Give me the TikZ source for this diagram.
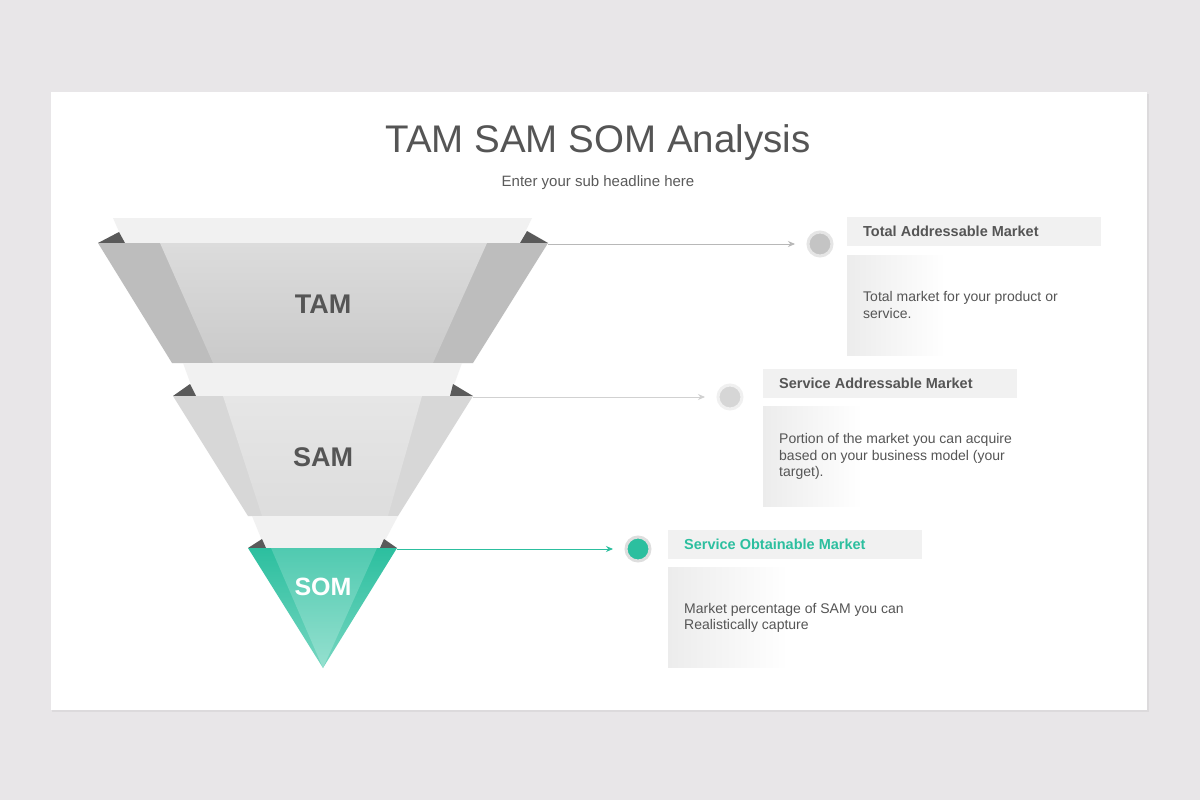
\documentclass[tikz,border=0pt]{standalone}
\usepackage{fontspec}
\setmainfont{Liberation Sans}
\usetikzlibrary{arrows.meta}
\definecolor{bgc}{HTML}{E8E6E8}
\definecolor{shadowc}{HTML}{DCDADC}
\definecolor{titlec}{HTML}{555555}
\definecolor{subc}{HTML}{5A5A5A}
\definecolor{bandc}{HTML}{F1F1F1}
\definecolor{darkc}{HTML}{5A5A5A}
\definecolor{tamside}{HTML}{BDBDBD}
\definecolor{tamtop}{HTML}{DCDCDC}
\definecolor{tambot}{HTML}{CACACA}
\definecolor{samside}{HTML}{D7D7D7}
\definecolor{samtop}{HTML}{E6E6E6}
\definecolor{sambot}{HTML}{DDDDDD}
\definecolor{teal}{HTML}{2CBF9F}
\definecolor{tealtop}{HTML}{50CAB0}
\definecolor{tealbot}{HTML}{95E0CF}
\definecolor{hdrc}{HTML}{F1F1F1}
\definecolor{bodyc}{HTML}{ECECEC}
\definecolor{txtc}{HTML}{555555}
\tikzset{
  band/.style={fill=bandc},
  darktri/.style={fill=darkc},
  hdr/.style={fill=hdrc},
  bodybox/.style={left color=bodyc,right color=white},
  hdrtext/.style={anchor=west,inner sep=0,font=\bfseries\fontsize{14.5}{17}\selectfont,text=txtc},
  bodytext/.style={anchor=west,inner sep=0,align=left,font=\fontsize{14}{16.5}\selectfont,text=txtc},
  lbl/.style={inner sep=0,font=\bfseries\fontsize{27}{30}\selectfont,text=txtc},
  dot/.style={circle,minimum size=24pt,inner sep=0,outer sep=0,line width=3pt},
  conn/.style={line width=0.9pt,-{Stealth[length=7pt,width=6pt]},shorten >=13pt}
}
\begin{document}
\begin{tikzpicture}[x=1pt,y=-1pt]
\useasboundingbox (0,0) rectangle (1200,800);
\fill[bgc] (0,0) rectangle (1200,800);
\fill[shadowc] (52,94) rectangle (1149,712);
\fill[white] (51,92) rectangle (1147,710);

% titles
\node[font=\fontsize{38.5}{42}\selectfont,text=titlec,inner sep=0] (title) at (598,143) {TAM SAM SOM Analysis};
\node[font=\fontsize{15}{18}\selectfont,text=subc,inner sep=0] (sub) at (598,183) {Enter your sub headline here};

% ---------- TAM ----------
\fill[band] (113,218) -- (532,218) -- (520,243) -- (124,243) -- cycle;
\fill[darktri] (98,243) -- (119,232) -- (125,243) -- cycle;
\fill[darktri] (520,243) -- (527,231) -- (548,243) -- cycle;
\fill[tamside] (98,243) -- (548,243) -- (473,363) -- (172,363) -- cycle;
\shade[top color=tamtop,bottom color=tambot] (160,243) -- (487,243) -- (433,363) -- (213,363) -- cycle;
\node[lbl] (tam) at (323,304) {TAM};
\coordinate (tamR) at (548,244);

% ---------- SAM ----------
\fill[band] (183,363) -- (462,363) -- (450,396) -- (195,396) -- cycle;
\fill[darktri] (173,396) -- (190,384) -- (196,396) -- cycle;
\fill[darktri] (450,396) -- (453,384) -- (473,396) -- cycle;
\fill[samside] (173,396) -- (473,396) -- (398,516) -- (248,516) -- cycle;
\shade[top color=samtop,bottom color=sambot] (223,396) -- (422,396) -- (388,516) -- (262,516) -- cycle;
\node[lbl] (sam) at (323,457) {SAM};
\coordinate (samR) at (473,397);

% ---------- SOM ----------
\fill[band] (252,516) -- (398,516) -- (381,548) -- (265,548) -- cycle;
\fill[darktri] (248,548) -- (262,539) -- (266,548) -- cycle;
\fill[darktri] (380,548) -- (384,539) -- (397,548) -- cycle;
\shade[top color=teal,bottom color=tealbot!70!teal] (248,548) -- (397,548) -- (323,668) -- cycle;
\shade[top color=tealtop,bottom color=tealbot] (271,548) -- (377,548) -- (323,668) -- cycle;
\node[lbl,text=white,font=\bfseries\fontsize{25}{28}\selectfont] (som) at (323,587) {SOM};
\coordinate (somR) at (397,549);

% ---------- dots ----------
\node[dot,fill=black!23,draw=black!10] (tamC) at (820,244) {};
\node[dot,fill=black!16,draw=black!6] (samC) at (730,397) {};
\node[dot,fill=teal,draw=black!13] (somC) at (638,549) {};

% ---------- connectors ----------
\draw[conn,draw=black!28,fill=black!28] (tamR) -- (tamC.west);
\draw[conn,draw=black!18,fill=black!18] (samR) -- (samC.west);
\draw[conn,draw=teal,fill=teal] (somR) -- (somC.west);

% ---------- text boxes ----------
\fill[hdr] (847,217) rectangle (1101,246);
\node[hdrtext] (tamH) at (863,231.5) {Total Addressable Market};
\shade[bodybox] (847,255) rectangle (945,355);
\node[bodytext] (tamB) at (863,305) {Total market for your product or\\service.};

\fill[hdr] (763,369) rectangle (1017,398);
\node[hdrtext] (samH) at (779,383.5) {Service Addressable Market};
\shade[bodybox] (763,406) rectangle (862,506);
\node[bodytext] (samB) at (779,456.5) {Portion of the market you can acquire\\based on your business model (your\\target).};

\fill[hdr] (668,530) rectangle (922,559);
\node[hdrtext,text=teal] (somH) at (684,544.5) {Service Obtainable Market};
\shade[bodybox] (668,567) rectangle (788,667);
\node[bodytext] (somB) at (684,618) {Market percentage of SAM you can\\Realistically capture};
\end{tikzpicture}
\end{document}
